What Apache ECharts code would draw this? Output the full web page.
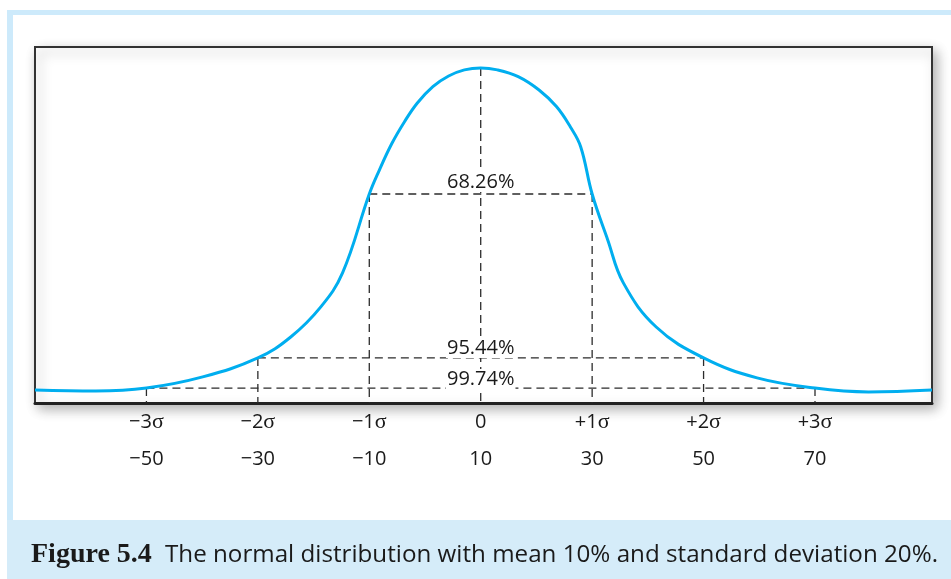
<!DOCTYPE html>
<html><head><meta charset="utf-8">
<script src="https://cdn.jsdelivr.net/npm/echarts@6/dist/echarts.min.js"></script>
<style>html,body{margin:0;padding:0;background:#fff}#c{width:951px;height:579px}</style>
</head><body><div id="c"></div>
<script>
// Curve (x = return %, y = relative density)
const curveX = [-70, -59.1, -50, -39.9, -30, -24.1, -18.7, -14.8, -10, -8.19, -5.93, -3.68, -1.41, 1.41, 4.24, 7.07, 10, 12.99, 16.73, 20.47, 23.59, 26.07, 27.94, 30, 32.8, 35.6, 41.5, 50, 59.6, 70, 79.6, 91];
const curveY = [0, -0.006, 0.012, 0.081, 0.199, 0.329, 0.516, 0.727, 1.217, 1.366, 1.532, 1.666, 1.781, 1.884, 1.950, 1.988, 2.0, 1.988, 1.946, 1.863, 1.760, 1.635, 1.511, 1.217, 0.932, 0.665, 0.391, 0.199, 0.075, 0.012, -0.012, 0];
// Tick labels
const tickValues = [-50, -30, -10, 10, 30, 50, 70];
const sigmaLabels = ['−3', '−2', '−1', '0', '+1', '+2', '+3'];
const returnLabels = ['−50', '−30', '−10', '10', '30', '50', '70'];
// Dashed reference lines
const markerX = [-50, -30, -10, 10, 30, 50, 70];
const markerTop = [0.012, 0.199, 1.217, 2.0, 1.217, 0.199, 0.012];
const bandFrom = [-10, -30, -50];
const bandTo = [30, 50, 70];
const bandLevel = [1.217, 0.199, 0.012];
const bandText = ['68.26%', '95.44%', '99.74%'];

const Y_MIN = -0.081, Y_MAX = 2.13;
const labelOffsets = [[0, -12], [0, -10], [0, -9]];
const dash = { color: '#2b2b2b', width: 1.3, type: [8, 5] };
const TXT = '#1a1a1a';

const series = [];
series.push({
  type: 'line', data: curveX.map((x, i) => [x, curveY[i]]), smooth: 0.4, symbol: 'none',
  lineStyle: { color: '#00aeef', width: 3 }, z: 5, silent: true
});
markerX.forEach((x, i) => {
  series.push({ type: 'line', data: [[x, markerTop[i]], [x, Y_MIN]], symbol: 'none', lineStyle: dash, z: 2, silent: true });
});
bandFrom.forEach((x, i) => {
  series.push({ type: 'line', data: [[x, bandLevel[i]], [bandTo[i], bandLevel[i]]], symbol: 'none', lineStyle: dash, z: 2, silent: true });
});
series.push({
  type: 'scatter', symbolSize: 0, z: 4, silent: true, itemStyle: { opacity: 1 },
  data: bandText.map((t, i) => ({ value: [(bandFrom[i] + bandTo[i]) / 2, bandLevel[i]], name: t,
    label: { offset: labelOffsets[i] } })),
  label: { show: true, position: 'inside', formatter: p => p.name, color: TXT, opacity: 1,
    fontFamily: 'Open Sans', fontSize: 20, backgroundColor: '#fff', padding: [0, 1] }
});

const chart = echarts.init(document.getElementById('c'), null, { renderer: 'canvas' });
chart.setOption({
  animation: false,
  backgroundColor: '#fff',
  grid: { left: 35, right: 19, top: 47, bottom: 176, show: true, borderColor: '#333', borderWidth: 2,
    backgroundColor: '#fff', shadowColor: 'rgba(0,0,0,0.3)', shadowBlur: 12, shadowOffsetX: 4, shadowOffsetY: 5 },
  xAxis: {
    type: 'value', min: -70, max: 91,
    axisLine: { show: true, onZero: false, lineStyle: { color: '#222', width: 3 } },
    axisTick: { show: false }, splitLine: { show: false },
    axisLabel: {
      customValues: tickValues, margin: 1, color: TXT,
      formatter: v => {
        const i = tickValues.indexOf(v);
        const s = sigmaLabels[i];
        const top = s === '0' ? '{a|0}' : '{a|' + s + '}{s|σ}';
        return top + '\n{n|' + returnLabels[i] + '}';
      },
      rich: {
        a: { fontFamily: 'Open Sans', fontSize: 20, lineHeight: 37, color: TXT },
        s: { fontFamily: 'Liberation Serif', fontSize: 22, lineHeight: 37, color: TXT },
        n: { fontFamily: 'Open Sans', fontSize: 20, lineHeight: 37, color: TXT }
      }
    }
  },
  yAxis: { type: 'value', min: Y_MIN, max: Y_MAX, show: false, splitLine: { show: false } },
  graphic: [
    { type: 'rect', shape: { x: 7, y: 10, width: 944, height: 5 }, style: { fill: '#cdeafb' }, z: -1 },
    { type: 'rect', shape: { x: 7, y: 10, width: 6, height: 510 }, style: { fill: '#cdeafb' }, z: -1 },
    { type: 'rect', shape: { x: 7, y: 520, width: 944, height: 59 }, style: { fill: '#d5ecf9' }, z: -1 },
    { type: 'text', x: 31, y: 555, style: { text: 'Figure 5.4', font: 'bold 28px "Liberation Serif"', fill: TXT, textVerticalAlign: 'middle' } },
    { type: 'text', x: 165, y: 555, style: { text: 'The normal distribution with mean 10% and standard deviation 20%.', font: '24.2px "Open Sans"', fill: TXT, textVerticalAlign: 'middle' } }
  ],
  series: series
});
</script></body></html>
